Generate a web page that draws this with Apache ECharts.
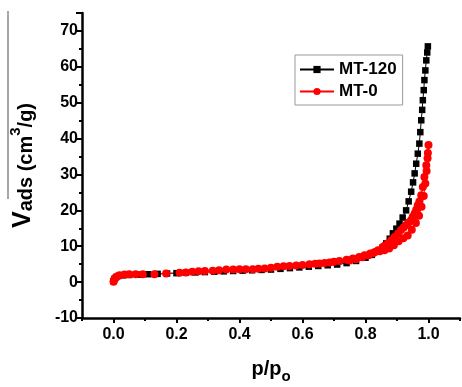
<!DOCTYPE html>
<html><head><meta charset="utf-8">
<script src="https://cdn.jsdelivr.net/npm/echarts@6/dist/echarts.min.js"></script>
<style>html,body{margin:0;padding:0;background:#fff}#c{width:462px;height:387px}</style>
</head><body><div id="c"></div>
<script>
// MT-120 (black squares)
const mt120X = [0.0,0.003,0.008,0.015,0.03,0.05,0.08,0.11,0.14,0.17,0.2,0.23,0.26,0.29,0.32,0.35,0.38,0.41,0.44,0.47,0.5,0.53,0.56,0.59,0.62,0.65,0.68,0.71,0.74,0.77,0.8,0.82,0.84,0.855,0.866,0.877,0.887,0.898,0.908,0.918,0.929,0.937,0.945,0.951,0.956,0.961,0.966,0.971,0.974,0.977,0.98,0.982,0.985,0.987,0.99,0.993,0.996,0.998];
const mt120Y = [0.3,0.9,1.4,1.7,1.9,2.0,2.1,2.2,2.3,2.4,2.5,2.6,2.7,2.8,2.9,3.0,3.1,3.2,3.3,3.4,3.5,3.7,3.9,4.1,4.3,4.5,4.7,4.9,5.3,5.9,6.8,7.6,8.6,9.7,10.8,12.1,13.6,14.9,16.3,18.0,20.0,22.5,25.2,27.8,30.3,33.0,35.8,38.6,41.8,45.1,48.0,50.7,53.5,56.3,59.0,61.8,64.0,65.7];
// MT-0 (red circles): adsorption then desorption
const mt0X = [0.0,0.002,0.005,0.01,0.019,0.035,0.05,0.07,0.093,0.13,0.167,0.21,0.23,0.25,0.27,0.29,0.315,0.335,0.358,0.38,0.4,0.42,0.442,0.46,0.48,0.5,0.52,0.54,0.559,0.58,0.6,0.622,0.64,0.654,0.67,0.686,0.7,0.717,0.74,0.76,0.78,0.797,0.815,0.83,0.845,0.86,0.875,0.89,0.905,0.92,0.934,0.947,0.96,0.97,0.978,0.985,0.99,0.994,0.997,1.0,
  0.998,0.993,0.987,0.982,0.977,0.971,0.966,0.961,0.956,0.95,0.945,0.937,0.929,0.921,0.913,0.903,0.892,0.882,0.871,0.862,0.855,0.84,0.825,0.81,0.79,0.77,0.75];
const mt0Y = [0.1,0.6,1.0,1.5,1.9,2.1,2.2,2.2,2.2,2.2,2.4,2.6,2.7,2.9,3.0,3.1,3.2,3.3,3.5,3.5,3.6,3.6,3.6,3.7,3.8,4.0,4.3,4.4,4.5,4.6,4.8,5.0,5.1,5.2,5.3,5.5,5.7,5.9,6.2,6.6,7.0,7.5,8.0,8.4,8.6,8.9,9.4,10.3,11.4,12.2,13.0,14.6,16.5,18.5,21.0,24.0,27.5,31.0,34.5,38.2,
  36.0,32.6,29.3,26.5,24.2,22.5,21.4,20.2,19.1,18.2,17.3,16.6,15.9,15.2,14.5,13.5,12.6,11.7,10.8,10.2,9.8,8.9,8.1,7.5,6.9,6.4,6.0];
const xMajorTicks = [0.0,0.2,0.4,0.6,0.8,1.0];
const xMinorTicks = [-0.1,0.1,0.3,0.5,0.7,0.9,1.1];

const pair = (xs, ys) => xs.map((x, i) => [x, ys[i]]);
const chart = echarts.init(document.getElementById('c'));
const F = 'Arial, "Liberation Sans", sans-serif';
const axisLine = {onZero:false, lineStyle:{color:'#000', width:2.5}};
chart.setOption({
  animation:false,
  grid:{left:82, top:13, width:378, height:305, containLabel:false, outerBoundsMode:'none'},
  legend:{
    left:295, top:55, orient:'vertical',
    data:['MT-120','MT-0'],
    borderColor:'#999', borderWidth:1, padding:[6,6,5,4], itemGap:5,
    itemWidth:34, itemHeight:9,
    textStyle:{fontFamily:F, fontWeight:'bold', fontSize:17, color:'#000'}
  },
  xAxis:[{
    type:'value', min:-0.1, max:1.1, position:'bottom',
    axisLine: axisLine, splitLine:{show:false},
    axisTick:{show:true, customValues:xMajorTicks, length:5, lineStyle:{color:'#000', width:2}},
    axisLabel:{customValues:xMajorTicks, margin:9, color:'#000', fontFamily:F, fontWeight:'bold', fontSize:16,
      formatter: v => v.toFixed(1)},
    name:'{a|p/p}{b|o}', nameLocation:'middle', nameGap:41,
    nameTextStyle:{color:'#000', fontFamily:F, fontWeight:'bold',
      rich:{a:{fontSize:20, fontWeight:'bold', fontFamily:F, lineHeight:20, verticalAlign:'top', color:'#000'},
            b:{fontSize:15, fontWeight:'bold', fontFamily:F, lineHeight:25, verticalAlign:'bottom', color:'#000'}}}
  },{
    type:'value', min:-0.1, max:1.1, position:'bottom',
    axisLine:{show:false, onZero:false}, splitLine:{show:false}, axisLabel:{show:false},
    axisTick:{show:true, customValues:xMinorTicks, length:3, lineStyle:{color:'#000', width:2}}
  }],
  yAxis:{
    type:'value', min:-10, max:75, interval:10,
    axisLine: axisLine, splitLine:{show:false},
    axisTick:{show:true, length:6, lineStyle:{color:'#000', width:2}},
    minorTick:{show:true, splitNumber:2, length:3, lineStyle:{color:'#000', width:2}},
    axisLabel:{margin:4, color:'#000', fontFamily:F, fontWeight:'bold', fontSize:16, showMaxLabel:false,
      formatter: v => (v > 70 ? '' : String(v))},
    name:'{v|V}{s|ads (cm}{u|3}{s|/g)}', nameLocation:'middle', nameGap:46, nameRotate:90,
    nameTextStyle:{color:'#000', fontFamily:F, fontWeight:'bold',
      rich:{v:{fontSize:25, fontWeight:'bold', fontFamily:F, lineHeight:28, verticalAlign:'bottom', color:'#000'},
            s:{fontSize:20, fontWeight:'bold', fontFamily:F, lineHeight:23, verticalAlign:'bottom', color:'#000'},
            u:{fontSize:15, fontWeight:'bold', fontFamily:F, lineHeight:15, verticalAlign:'top', color:'#000'}}}
  },
  graphic:[{type:'line', shape:{x1:8, y1:11, x2:8, y2:199}, style:{stroke:'#888', lineWidth:1.5}}],
  series:[{
    name:'MT-120', type:'line', data:pair(mt120X, mt120Y), xAxisIndex:0,
    symbol:'rect', symbolSize:6.5, showAllSymbol:true,
    itemStyle:{color:'#000'}, lineStyle:{color:'#000', width:1}
  },{
    name:'MT-0', type:'line', data:pair(mt0X, mt0Y), xAxisIndex:0,
    symbol:'circle', symbolSize:8, showAllSymbol:true,
    itemStyle:{color:'#ff0000'}, lineStyle:{color:'#ff0000', width:1}
  }]
});
</script></body></html>
